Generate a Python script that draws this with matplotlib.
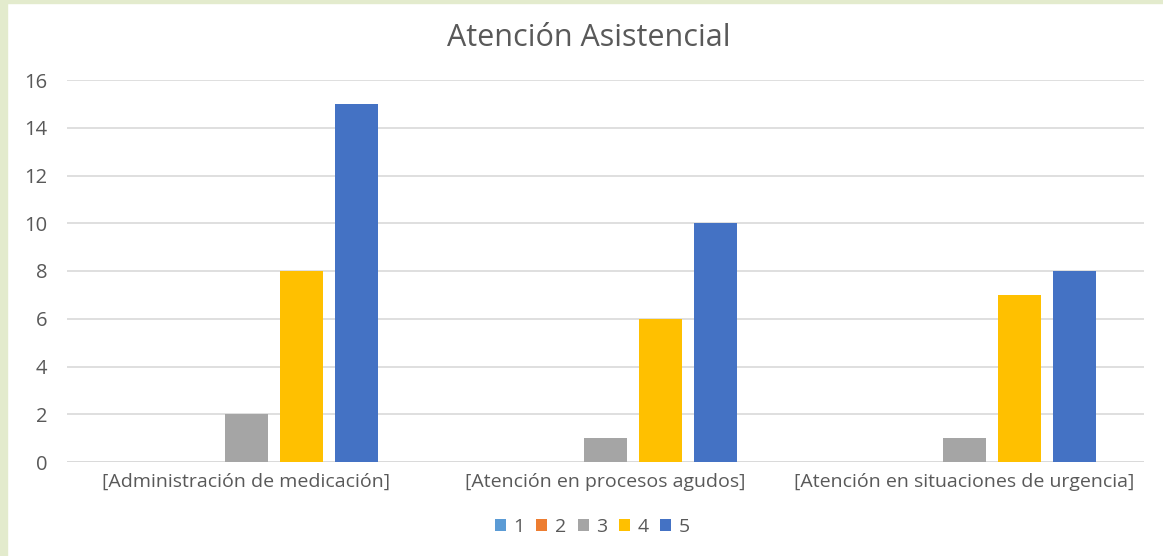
import numpy as np
import matplotlib
matplotlib.use('Agg')
import matplotlib.pyplot as plt
from matplotlib.patches import Rectangle

categories = ['[Administración de medicación]',
              '[Atención en procesos agudos]',
              '[Atención en situaciones de urgencia]']
series_names = ['1', '2', '3', '4', '5']
s1 = [0, 0, 0]
s2 = [0, 0, 0]
s3 = [2, 1, 1]
s4 = [8, 6, 7]
s5 = [15, 10, 8]
colors = ['#5B9BD5', '#ED7D31', '#A5A5A5', '#FFC000', '#4472C4']

plt.rcParams['font.family'] = ['Open Sans', 'DejaVu Sans']
txt = '#595959'

fig = plt.figure(figsize=(11.63, 5.56), dpi=100)
# light border like the screenshot
fig.patches.append(Rectangle((0, 0), 7/1163, 1, transform=fig.transFigure, color='#E3EBCD', zorder=0))
fig.patches.append(Rectangle((0, 1 - 3/556), 1, 3/556, transform=fig.transFigure, color='#E3EBCD', zorder=0))

ax = fig.add_axes([67/1163, 1 - 462/556, (1144 - 67)/1163, (462 - 80)/556])
x = np.arange(len(categories))
step = 0.153
width = 0.12
for i, (vals, name) in enumerate(zip([s1, s2, s3, s4, s5], series_names)):
    ax.bar(x + (i - 2) * step, vals, width, color=colors[i], label=name, zorder=3)

ax.set_xlim(-0.5, 2.5)
ax.set_ylim(0, 16)
ax.set_yticks(range(0, 17, 2))
ax.grid(axis='y', color='#D9D9D9', linewidth=1.2, zorder=0)
for s in ax.spines.values():
    s.set_visible(False)
ax.axhline(0, color='#D9D9D9', linewidth=1.2, zorder=2)
ax.tick_params(axis='both', length=0, colors=txt)
ax.tick_params(axis='y', pad=14, labelsize=14.5)
ax.tick_params(axis='x', pad=8, labelsize=14)
ax.set_xticks(x)
ax.set_xticklabels(categories)

fig.text(589/1163, 1 - 38/556, 'Atención Asistencial', ha='center', va='center',
         fontsize=22, color=txt)

ax.legend(loc='center', bbox_to_anchor=(0.488, -0.17), ncol=5, frameon=False,
          fontsize=14, labelcolor=txt, handlelength=0.55, handleheight=0.55,
          handletextpad=0.4, columnspacing=0.6)

fig.savefig('out.png', dpi=100)
